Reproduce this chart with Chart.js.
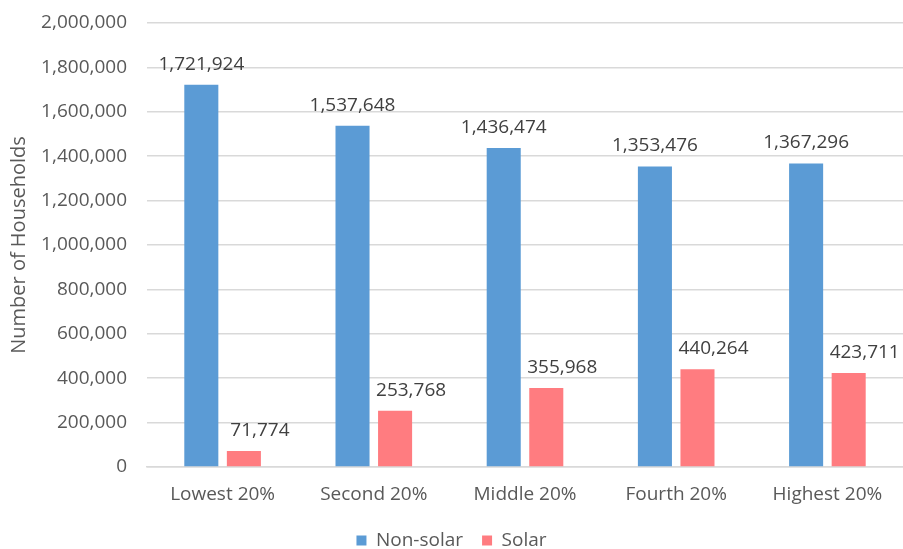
<!DOCTYPE html>
<html>
<head>
<meta charset="utf-8">
<script src="https://cdn.jsdelivr.net/npm/chart.js@4.4.1/dist/chart.umd.min.js"></script>
<style>
    html, body { margin: 0; padding: 0; background: #fff; overflow: hidden; }
    #wrap { position: relative; width: 903px; height: 560px; }
</style>
</head>
<body>
<div id="wrap"><canvas id="chart"></canvas></div>
<script>
// Data
const categories = ['Lowest 20%', 'Second 20%', 'Middle 20%', 'Fourth 20%', 'Highest 20%'];
const nonSolar = [1721924, 1537648, 1436474, 1353476, 1367296];
const solar = [71774, 253768, 355968, 440264, 423711];

const FONT = "'Open Sans', sans-serif";
const TEXT = '#595959';

// Value labels above the bars
const barLabels = {
    id: 'barLabels',
    afterDatasetsDraw(chart) {
        const ctx = chart.ctx;
        ctx.save();
        ctx.font = '19px ' + FONT;
        ctx.fillStyle = '#404040';
        ctx.textAlign = 'center';
        ctx.textBaseline = 'bottom';
        chart.data.datasets.forEach((ds, i) => {
            const meta = chart.getDatasetMeta(i);
            const dx = ds.labelOffset || 0;
            meta.data.forEach((bar, j) => {
                ctx.fillText(ds.data[j].toLocaleString('en-US'), bar.x + dx, bar.y - 11);
            });
        });
        ctx.restore();
    }
};

new Chart(document.getElementById('chart'), {
    type: 'bar',
    data: {
        labels: categories,
        datasets: [
            { label: 'Non-solar', data: nonSolar, backgroundColor: '#5B9BD5', labelOffset: 0 },
            { label: 'Solar', data: solar, backgroundColor: '#FF7C80', labelOffset: 16 }
        ]
    },
    options: {
        responsive: true,
        maintainAspectRatio: false,
        animation: false,
        layout: { padding: { top: 23, left: 0, right: 0, bottom: 0 } },
        datasets: { bar: { categoryPercentage: 0.563, barPercentage: 0.8 } },
        plugins: {
            tooltip: { enabled: false },
            legend: {
                position: 'bottom',
                labels: {
                    color: TEXT,
                    font: { family: FONT, size: 19 },
                    boxWidth: 10,
                    boxHeight: 10,
                    padding: 19
                }
            }
        },
        scales: {
            x: {
                grid: { display: false, drawTicks: false },
                border: { color: '#d9d9d9', width: 1.5 },
                ticks: { color: TEXT, font: { family: FONT, size: 19 }, padding: 16 },
                afterFit(scale) { scale.height = 45; }
            },
            y: {
                min: 0,
                max: 2000000,
                ticks: {
                    stepSize: 200000,
                    color: TEXT,
                    font: { family: FONT, size: 19 },
                    padding: 20,
                    callback: v => v.toLocaleString('en-US')
                },
                grid: { color: '#d9d9d9', lineWidth: 1.5, drawTicks: false },
                border: { display: false },
                title: {
                    display: true,
                    text: 'Number of Households',
                    color: TEXT,
                    font: { family: FONT, size: 20 },
                    padding: { top: 7, bottom: 0 }
                },
                afterFit(scale) {
                    scale.width = 147;
                    // tick padding shouldn't push the plot down
                    scale.paddingTop = 12;
                    scale.paddingBottom = 12;
                }
            }
        }
    },
    plugins: [barLabels]
});
</script>
</body>
</html>
